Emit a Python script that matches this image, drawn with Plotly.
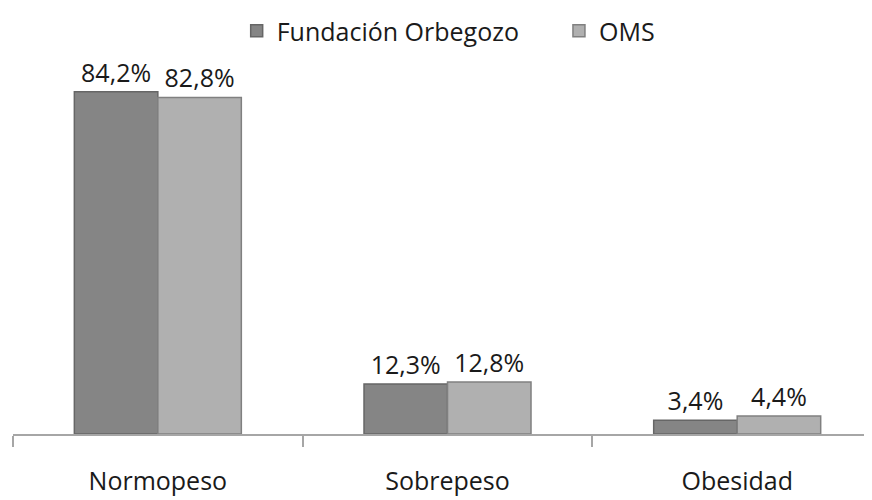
import plotly.graph_objects as go

categories = ["Normopeso", "Sobrepeso", "Obesidad"]
fundacion = [84.2, 12.3, 3.4]
oms = [82.8, 12.8, 4.4]
series_names = ["Fundación Orbegozo", "OMS"]

def fmt(v):
    return f"{v:.1f}".replace(".", ",") + "%"

FONT = "Open Sans"

fig = go.Figure()
fig.add_trace(go.Bar(
    x=categories, y=fundacion, name=series_names[0], legend="legend",
    marker=dict(color="#858585", line=dict(color="#666666", width=1.5)),
    text=[fmt(v) for v in fundacion], textposition="outside",
    textfont=dict(family=FONT, size=25, color="#1a1a1a"), cliponaxis=False,
))
fig.add_trace(go.Bar(
    x=categories, y=oms, name=series_names[1], legend="legend2",
    marker=dict(color="#b0b0b0", line=dict(color="#808080", width=1.5)),
    text=[fmt(v) for v in oms], textposition="outside",
    textfont=dict(family=FONT, size=25, color="#1a1a1a"), cliponaxis=False,
))

legend_common = dict(orientation="h", yanchor="top", y=1.0,
                     font=dict(family=FONT, size=25, color="#1a1a1a"),
                     itemwidth=30, bgcolor="rgba(0,0,0,0)")

fig.update_layout(
    width=872, height=500,
    margin=dict(l=5, r=0, t=0, b=74),
    paper_bgcolor="white", plot_bgcolor="white",
    barmode="group", bargap=0.4235, bargroupgap=0,
    font=dict(family=FONT, size=25, color="#1a1a1a"),
    showlegend=True,
    legend=dict(x=0.258, xanchor="left", **legend_common),
    legend2=dict(x=0.6297, xanchor="left", **legend_common),
    xaxis=dict(
        type="category", range=[-0.5, 2.493],
        showline=True, linecolor="#a6a6a6", linewidth=2,
        ticks="outside", tickson="boundaries", ticklen=11, tickwidth=2, tickcolor="#a6a6a6",
        ticklabelstandoff=24,
        tickfont=dict(family=FONT, size=25, color="#1a1a1a"),
        showgrid=False, zeroline=False,
    ),
    yaxis=dict(range=[0, 104.8], visible=False, showgrid=False, zeroline=False),
)

fig.write_html("out.html")
